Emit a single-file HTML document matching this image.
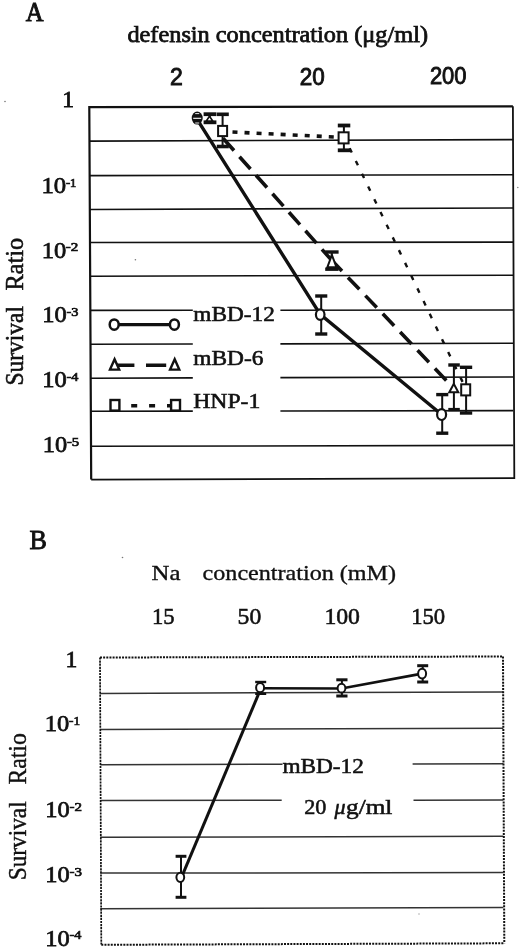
<!DOCTYPE html>
<html><head><meta charset="utf-8"><style>
html,body{margin:0;padding:0;background:#fff;}
body{width:520px;height:950px;overflow:hidden;}
svg{display:block;filter:grayscale(1);}
text{fill:#111;stroke:#111;stroke-width:0.55px;}
</style></head><body>
<svg width="520" height="950" viewBox="0 0 520 950">
<rect width="520" height="950" fill="#fff"/>
<line x1="89.47" y1="141.10" x2="513.30" y2="139.60" stroke="#111" stroke-width="1.6" />
<line x1="89.65" y1="175.60" x2="513.30" y2="174.70" stroke="#111" stroke-width="1.6" />
<line x1="89.82" y1="209.50" x2="513.30" y2="208.00" stroke="#111" stroke-width="1.6" />
<line x1="89.99" y1="242.50" x2="513.30" y2="242.10" stroke="#111" stroke-width="1.6" />
<line x1="90.16" y1="276.20" x2="513.30" y2="275.20" stroke="#111" stroke-width="1.6" />
<line x1="90.34" y1="310.40" x2="192.80" y2="310.30" stroke="#111" stroke-width="1.6" />
<line x1="280.40" y1="310.22" x2="513.30" y2="310.00" stroke="#111" stroke-width="1.6" />
<line x1="90.51" y1="344.30" x2="192.80" y2="344.06" stroke="#111" stroke-width="1.6" />
<line x1="280.40" y1="343.85" x2="513.30" y2="343.30" stroke="#111" stroke-width="1.6" />
<line x1="90.68" y1="378.20" x2="192.80" y2="377.91" stroke="#111" stroke-width="1.6" />
<line x1="280.40" y1="377.66" x2="513.30" y2="377.00" stroke="#111" stroke-width="1.6" />
<line x1="90.85" y1="411.30" x2="192.80" y2="411.13" stroke="#111" stroke-width="1.6" />
<line x1="280.40" y1="410.99" x2="513.30" y2="410.60" stroke="#111" stroke-width="1.6" />
<line x1="91.03" y1="446.30" x2="513.30" y2="445.40" stroke="#111" stroke-width="1.6" />
<path d="M91.2,479.6 L89.3,107.2 L512.9,106.3" fill="none" stroke="#111" stroke-width="2.2"/>
<path d="M512.9,106.3 L514.3,478.2 L91.2,479.6" fill="none" stroke="#111" stroke-width="1.8"/>
<polyline points="196.5,118.3 320.2,314.4 441.6,414.5" fill="none" stroke="#111" stroke-width="3.4"/>
<path d="M223,138.2 L331.7,260.3" fill="none" stroke="#111" stroke-width="3.6" stroke-dasharray="16.5 8.3"/>
<path d="M331.7,260.3 L453.7,388.3" fill="none" stroke="#111" stroke-width="3.6" stroke-dasharray="16.5 8.7" stroke-dashoffset="1.6"/>
<path d="M222.5,131.5 L343.5,137.5" fill="none" stroke="#111" stroke-width="3.6" stroke-dasharray="5 7.05" stroke-dashoffset="-10"/>
<path d="M344.7,137.9 L466.4,389.8" fill="none" stroke="#111" stroke-width="2.4" stroke-dasharray="4.8 9.35" stroke-dashoffset="-11.45"/>
<ellipse cx="197.2" cy="118.1" rx="5.5" ry="6.5" fill="#111"/>
<line x1="193.20" y1="118.30" x2="201.20" y2="118.30" stroke="#fff" stroke-width="1.1" />
<line x1="195.20" y1="113.60" x2="199.20" y2="113.60" stroke="#fff" stroke-width="0.9" />
<line x1="195.20" y1="123.00" x2="199.20" y2="123.00" stroke="#fff" stroke-width="0.9" />
<line x1="321.20" y1="296.00" x2="321.20" y2="334.00" stroke="#111" stroke-width="2" />
<line x1="315.20" y1="296.00" x2="327.30" y2="296.00" stroke="#111" stroke-width="3.4" />
<line x1="315.20" y1="334.00" x2="327.30" y2="334.00" stroke="#111" stroke-width="3.4" />
<ellipse cx="320.2" cy="314.6" rx="4.3" ry="5.3" fill="#fff" stroke="#111" stroke-width="2.2"/>
<line x1="442.20" y1="394.60" x2="442.20" y2="433.20" stroke="#111" stroke-width="2" />
<line x1="436.20" y1="394.60" x2="448.30" y2="394.60" stroke="#111" stroke-width="3.4" />
<line x1="436.20" y1="433.20" x2="448.30" y2="433.20" stroke="#111" stroke-width="3.4" />
<ellipse cx="441.6" cy="414.6" rx="4.5" ry="5.4" fill="#fff" stroke="#111" stroke-width="2.2"/>
<line x1="209.80" y1="114.20" x2="209.80" y2="122.30" stroke="#111" stroke-width="2" />
<line x1="203.60" y1="114.20" x2="216.40" y2="114.20" stroke="#111" stroke-width="3.8" />
<line x1="203.60" y1="122.30" x2="216.40" y2="122.30" stroke="#111" stroke-width="3.8" />
<path d="M206.3,121.0 L209.5,116.2 L212.7,121.0 Z" fill="#fff" stroke="#111" stroke-width="1.6" stroke-linejoin="miter"/>
<line x1="331.70" y1="252.00" x2="331.70" y2="269.20" stroke="#111" stroke-width="2" />
<line x1="325.20" y1="252.00" x2="338.60" y2="252.00" stroke="#111" stroke-width="3.4" />
<line x1="325.20" y1="269.20" x2="338.60" y2="269.20" stroke="#111" stroke-width="3.4" />
<path d="M327.29999999999995,267.3 L331.9,255.0 L336.5,267.3 Z" fill="#fff" stroke="#111" stroke-width="2.0" stroke-linejoin="miter"/>
<line x1="453.90" y1="365.00" x2="453.90" y2="409.60" stroke="#111" stroke-width="2" />
<line x1="448.30" y1="365.00" x2="459.80" y2="365.00" stroke="#111" stroke-width="3.4" />
<line x1="448.30" y1="409.60" x2="459.80" y2="409.60" stroke="#111" stroke-width="3.4" />
<path d="M449.3,392.3 L453.8,383.8 L458.3,392.3 Z" fill="#fff" stroke="#111" stroke-width="2.0" stroke-linejoin="miter"/>
<line x1="222.60" y1="114.30" x2="222.60" y2="146.50" stroke="#111" stroke-width="2" />
<line x1="216.80" y1="114.30" x2="228.80" y2="114.30" stroke="#111" stroke-width="3.6" />
<line x1="216.80" y1="146.50" x2="228.80" y2="146.50" stroke="#111" stroke-width="3.6" />
<rect x="218.1" y="125.9" width="9.0" height="10.199999999999989" fill="#fff" stroke="#111" stroke-width="2"/>
<line x1="343.90" y1="125.50" x2="343.90" y2="150.30" stroke="#111" stroke-width="2" />
<line x1="337.80" y1="125.50" x2="350.30" y2="125.50" stroke="#111" stroke-width="3.8" />
<line x1="337.80" y1="150.30" x2="350.30" y2="150.30" stroke="#111" stroke-width="3.8" />
<rect x="338.6" y="132.3" width="10.0" height="11.099999999999994" fill="#fff" stroke="#111" stroke-width="2"/>
<line x1="466.10" y1="367.30" x2="466.10" y2="413.00" stroke="#111" stroke-width="2" />
<line x1="459.90" y1="367.30" x2="472.20" y2="367.30" stroke="#111" stroke-width="3.4" />
<line x1="459.90" y1="413.00" x2="472.20" y2="413.00" stroke="#111" stroke-width="3.4" />
<rect x="461.2" y="384.3" width="9.0" height="11.099999999999966" fill="#fff" stroke="#111" stroke-width="2"/>
<line x1="114.2" y1="324.6" x2="174.2" y2="324.6" stroke="#111" stroke-width="3.4"/>
<ellipse cx="114.2" cy="324.6" rx="4.5" ry="5.2" fill="#fff" stroke="#111" stroke-width="2.5"/>
<ellipse cx="174.4" cy="324.6" rx="4.5" ry="5.2" fill="#fff" stroke="#111" stroke-width="2.5"/>
<line x1="114.2" y1="365.2" x2="174.6" y2="365.2" stroke="#111" stroke-width="3.4" stroke-dasharray="20.2 11.6"/>
<path d="M110.0,369.6 L114.6,359.2 L119.19999999999999,369.6 Z" fill="#fff" stroke="#111" stroke-width="2.4" stroke-linejoin="miter"/>
<path d="M170.1,369.6 L174.7,359.2 L179.29999999999998,369.6 Z" fill="#fff" stroke="#111" stroke-width="2.4" stroke-linejoin="miter"/>
<line x1="113.3" y1="405.8" x2="175" y2="405.8" stroke="#111" stroke-width="3.6" stroke-dasharray="6 11.9"/>
<rect x="110.5" y="400.0" width="8.900000000000006" height="10.600000000000023" fill="#fff" stroke="#111" stroke-width="2.4"/>
<rect x="171.1" y="400.0" width="8.900000000000006" height="10.600000000000023" fill="#fff" stroke="#111" stroke-width="2.4"/>
<text x="193.3" y="321.4" font-size="20" font-family="'Liberation Serif', serif" textLength="81.5" lengthAdjust="spacingAndGlyphs" >mBD-12</text>
<text x="193.3" y="365.0" font-size="20" font-family="'Liberation Serif', serif" textLength="70.2" lengthAdjust="spacingAndGlyphs" >mBD-6</text>
<text x="193.3" y="407.7" font-size="20" font-family="'Liberation Serif', serif" textLength="67.0" lengthAdjust="spacingAndGlyphs" >HNP-1</text>
<text x="25.8" y="21.1" font-size="28" font-family="'Liberation Serif', serif" textLength="17.8" lengthAdjust="spacingAndGlyphs" style="stroke-width:1.0px">A</text>
<text x="127.4" y="41.5" font-size="22.5" font-family="'Liberation Serif', serif" textLength="300.6" lengthAdjust="spacingAndGlyphs" style="stroke-width:0.75px">defensin concentration (μg/ml)</text>
<text x="169.9" y="85" font-size="23" font-family="'Liberation Sans', sans-serif"  style="stroke-width:0.9px">2</text>
<text x="299.7" y="85" font-size="23" font-family="'Liberation Sans', sans-serif" textLength="25.0" lengthAdjust="spacingAndGlyphs"  style="stroke-width:0.9px">20</text>
<text x="429.9" y="84.3" font-size="23" font-family="'Liberation Sans', sans-serif" textLength="36.6" lengthAdjust="spacingAndGlyphs"  style="stroke-width:0.9px">200</text>
<text x="62.2" y="106.9" font-size="23.5" font-family="'Liberation Serif', serif" style="stroke-width:0.8px">1</text>
<text x="41.43" y="193" font-size="23.5" font-family="'Liberation Serif', serif" textLength="24.71" lengthAdjust="spacingAndGlyphs" style="stroke-width:0.75px">10</text>
<text x="65.91" y="186.70" font-size="13" font-family="'Liberation Serif', serif" textLength="10.53" lengthAdjust="spacingAndGlyphs" style="stroke-width:0.7px">-1</text>
<text x="41.65" y="257.5" font-size="23.5" font-family="'Liberation Serif', serif" textLength="24.49" lengthAdjust="spacingAndGlyphs" style="stroke-width:0.75px">10</text>
<text x="65.83" y="251.20" font-size="13" font-family="'Liberation Serif', serif" textLength="12.58" lengthAdjust="spacingAndGlyphs" style="stroke-width:0.7px">-2</text>
<text x="42.25" y="322.2" font-size="23.5" font-family="'Liberation Serif', serif" textLength="24.49" lengthAdjust="spacingAndGlyphs" style="stroke-width:0.75px">10</text>
<text x="66.46" y="315.90" font-size="13" font-family="'Liberation Serif', serif" textLength="11.91" lengthAdjust="spacingAndGlyphs" style="stroke-width:0.7px">-3</text>
<text x="42.25" y="387.2" font-size="23.5" font-family="'Liberation Serif', serif" textLength="24.49" lengthAdjust="spacingAndGlyphs" style="stroke-width:0.75px">10</text>
<text x="66.46" y="380.90" font-size="13" font-family="'Liberation Serif', serif" textLength="11.91" lengthAdjust="spacingAndGlyphs" style="stroke-width:0.7px">-4</text>
<text x="42.86" y="451.9" font-size="23.5" font-family="'Liberation Serif', serif" textLength="24.37" lengthAdjust="spacingAndGlyphs" style="stroke-width:0.75px">10</text>
<text x="66.95" y="445.60" font-size="13" font-family="'Liberation Serif', serif" textLength="12.25" lengthAdjust="spacingAndGlyphs" style="stroke-width:0.7px">-5</text>
<text transform="translate(22.6,385.6) rotate(-90)" font-size="24.5" font-family="'Liberation Serif', serif" textLength="79.6" lengthAdjust="spacingAndGlyphs">Survival</text>
<text transform="translate(22.6,290.4) rotate(-90)" font-size="24.5" font-family="'Liberation Serif', serif" textLength="52.6" lengthAdjust="spacingAndGlyphs">Ratio</text>
<line x1="100.30" y1="693.40" x2="503.30" y2="692.00" stroke="#333" stroke-width="1.5" />
<line x1="100.30" y1="729.60" x2="503.30" y2="728.30" stroke="#333" stroke-width="1.5" />
<line x1="100.30" y1="764.70" x2="282.50" y2="764.25" stroke="#333" stroke-width="1.5" />
<line x1="412.60" y1="763.93" x2="503.30" y2="763.70" stroke="#333" stroke-width="1.5" />
<line x1="100.30" y1="800.60" x2="281.70" y2="800.33" stroke="#333" stroke-width="1.5" />
<line x1="413.50" y1="800.13" x2="503.30" y2="800.00" stroke="#333" stroke-width="1.5" />
<line x1="100.30" y1="837.30" x2="503.30" y2="836.30" stroke="#333" stroke-width="1.5" />
<line x1="100.30" y1="873.10" x2="503.30" y2="872.60" stroke="#333" stroke-width="1.5" />
<line x1="100.30" y1="908.80" x2="503.30" y2="907.40" stroke="#333" stroke-width="1.5" />
<line x1="100.0" y1="657.4" x2="101.3" y2="944.6" stroke="#111" stroke-width="1.7" stroke-dasharray="2.2 0.9"/>
<line x1="100.0" y1="657.5" x2="503.0" y2="656.5" stroke="#111" stroke-width="2" stroke-dasharray="2 1.15"/>
<line x1="503.0" y1="656.5" x2="504.3" y2="943.5" stroke="#111" stroke-width="2" stroke-dasharray="2 1.15"/>
<line x1="101.3" y1="944.8" x2="504.3" y2="943.3" stroke="#111" stroke-width="2" stroke-dasharray="2 1.15"/>
<polyline points="181.5,877.3 261.2,687.7" fill="none" stroke="#111" stroke-width="3.0"/>
<polyline points="260.1,688.3 341.5,688.5 422.1,673.6" fill="none" stroke="#111" stroke-width="2.6"/>
<line x1="181.00" y1="856.30" x2="181.00" y2="897.30" stroke="#111" stroke-width="2" />
<line x1="175.60" y1="856.30" x2="186.40" y2="856.30" stroke="#111" stroke-width="3" />
<line x1="175.60" y1="897.30" x2="186.40" y2="897.30" stroke="#111" stroke-width="3" />
<ellipse cx="180.3" cy="877.3" rx="3.9" ry="4.6" fill="#fff" stroke="#111" stroke-width="2"/>
<line x1="260.60" y1="682.00" x2="260.60" y2="693.80" stroke="#111" stroke-width="2" />
<line x1="255.20" y1="682.00" x2="266.20" y2="682.00" stroke="#111" stroke-width="2.4" />
<line x1="255.20" y1="693.80" x2="266.20" y2="693.80" stroke="#111" stroke-width="2.4" />
<ellipse cx="260.1" cy="687.7" rx="4.0" ry="4.6" fill="#fff" stroke="#111" stroke-width="2"/>
<line x1="341.90" y1="679.80" x2="341.90" y2="696.00" stroke="#111" stroke-width="2" />
<line x1="336.30" y1="679.80" x2="347.50" y2="679.80" stroke="#111" stroke-width="3" />
<line x1="336.30" y1="696.00" x2="347.50" y2="696.00" stroke="#111" stroke-width="3" />
<ellipse cx="341.5" cy="688.2" rx="3.9" ry="4.4" fill="#fff" stroke="#111" stroke-width="2"/>
<line x1="422.70" y1="665.70" x2="422.70" y2="682.00" stroke="#111" stroke-width="2" />
<line x1="417.20" y1="665.70" x2="428.20" y2="665.70" stroke="#111" stroke-width="3" />
<line x1="417.20" y1="682.00" x2="428.20" y2="682.00" stroke="#111" stroke-width="3" />
<ellipse cx="422.1" cy="673.6" rx="4.0" ry="4.9" fill="#fff" stroke="#111" stroke-width="2"/>
<text x="29.5" y="549.2" font-size="27.5" font-family="'Liberation Serif', serif" textLength="17.4" lengthAdjust="spacingAndGlyphs" style="stroke-width:0.9px">B</text>
<text x="151.6" y="579.9" font-size="21.5" font-family="'Liberation Serif', serif" textLength="28.9" lengthAdjust="spacingAndGlyphs" style="stroke-width:0.35px">Na</text>
<text x="202.6" y="580" font-size="21.5" font-family="'Liberation Serif', serif" textLength="193.4" lengthAdjust="spacingAndGlyphs" style="stroke-width:0.35px">concentration (mM)</text>
<text x="151.9" y="623.6" font-size="23" font-family="'Liberation Serif', serif" textLength="22.6" lengthAdjust="spacingAndGlyphs" >15</text>
<text x="237.6" y="623.6" font-size="23" font-family="'Liberation Serif', serif" textLength="23.6" lengthAdjust="spacingAndGlyphs" >50</text>
<text x="324.4" y="623.6" font-size="23" font-family="'Liberation Serif', serif" textLength="35.6" lengthAdjust="spacingAndGlyphs" >100</text>
<text x="411.2" y="623.6" font-size="23" font-family="'Liberation Serif', serif" textLength="34.0" lengthAdjust="spacingAndGlyphs" >150</text>
<text x="65.4" y="666.8" font-size="23.5" font-family="'Liberation Serif', serif" style="stroke-width:0.8px">1</text>
<text x="44.75" y="731.3" font-size="23.5" font-family="'Liberation Serif', serif" textLength="24.49" lengthAdjust="spacingAndGlyphs" style="stroke-width:0.75px">10</text>
<text x="68.99" y="725.00" font-size="13" font-family="'Liberation Serif', serif" textLength="11.09" lengthAdjust="spacingAndGlyphs" style="stroke-width:0.7px">-1</text>
<text x="45.36" y="816.9" font-size="23.5" font-family="'Liberation Serif', serif" textLength="24.37" lengthAdjust="spacingAndGlyphs" style="stroke-width:0.75px">10</text>
<text x="69.44" y="810.60" font-size="13" font-family="'Liberation Serif', serif" textLength="12.47" lengthAdjust="spacingAndGlyphs" style="stroke-width:0.7px">-2</text>
<text x="45.36" y="881.9" font-size="23.5" font-family="'Liberation Serif', serif" textLength="24.37" lengthAdjust="spacingAndGlyphs" style="stroke-width:0.75px">10</text>
<text x="69.44" y="875.60" font-size="13" font-family="'Liberation Serif', serif" textLength="12.47" lengthAdjust="spacingAndGlyphs" style="stroke-width:0.7px">-3</text>
<text x="45.36" y="945.6" font-size="23.5" font-family="'Liberation Serif', serif" textLength="24.37" lengthAdjust="spacingAndGlyphs" style="stroke-width:0.75px">10</text>
<text x="69.46" y="939.30" font-size="13" font-family="'Liberation Serif', serif" textLength="11.91" lengthAdjust="spacingAndGlyphs" style="stroke-width:0.7px">-4</text>
<text transform="translate(25.8,880.3) rotate(-90)" font-size="24.5" font-family="'Liberation Serif', serif" textLength="79.0" lengthAdjust="spacingAndGlyphs" style="stroke-width:0.4px">Survival</text>
<text transform="translate(25.8,784.6) rotate(-90)" font-size="24.5" font-family="'Liberation Serif', serif" textLength="51.4" lengthAdjust="spacingAndGlyphs" style="stroke-width:0.4px">Ratio</text>
<text x="282.4" y="772.5" font-size="21.5" font-family="'Liberation Serif', serif" textLength="81.5" lengthAdjust="spacingAndGlyphs" >mBD-12</text>
<text x="304.2" y="814.3" font-size="22" font-family="'Liberation Serif', serif" textLength="22.2" lengthAdjust="spacingAndGlyphs">20</text>
<text x="334.6" y="814.3" font-size="22" font-family="'Liberation Serif', serif" font-style="italic">μ</text>
<text x="346" y="814.3" font-size="22" font-family="'Liberation Serif', serif" textLength="46.4" lengthAdjust="spacingAndGlyphs">g/ml</text>
<circle cx="5" cy="101.5" r="0.8" fill="#777"/>
<circle cx="122.5" cy="557.5" r="0.8" fill="#777"/>
<circle cx="135.4" cy="259.8" r="0.8" fill="#777"/>
<circle cx="517.8" cy="187.5" r="0.8" fill="#888"/>
<circle cx="419" cy="914" r="0.7" fill="#999"/>
</svg>
</body></html>
